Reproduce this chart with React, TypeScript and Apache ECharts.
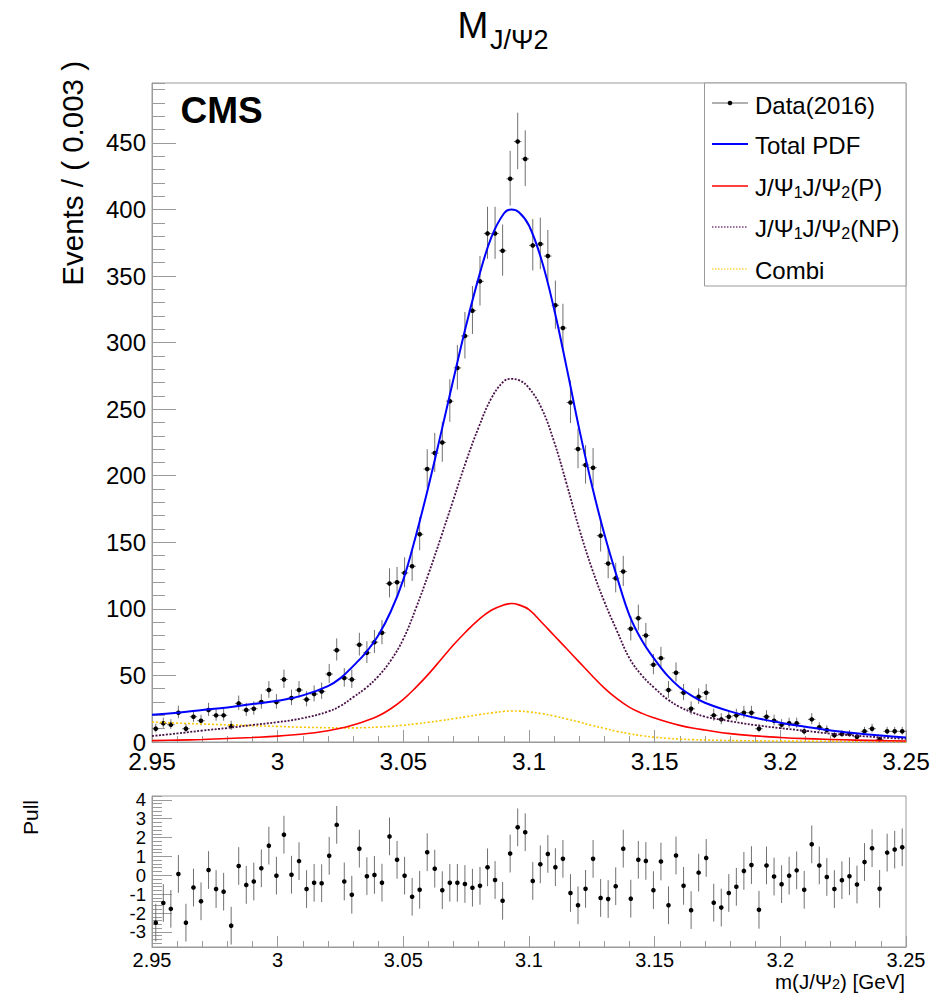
import React, { useEffect, useRef } from "react";
import * as echarts from "echarts";

const X_MIN = 2.95;
const X_MAX = 3.25;
const BIN_WIDTH = 0.003;

// Events per bin (100 bins of 0.003 GeV from 2.95 to 3.25)
const COUNTS = [
  10, 14, 13, 22, 10, 19, 16, 24, 20, 20,
  12, 29, 24, 25, 30, 39, 30, 47, 33, 39,
  32, 36, 38, 51, 69, 48, 47, 73, 67, 75,
  82, 119, 120, 127, 132, 156, 205, 217, 225, 256,
  281, 305, 324, 346, 382, 382, 369, 423, 451, 438,
  373, 374, 365, 328, 311, 255, 220, 208, 206, 155,
  134, 123, 128, 85, 93, 80, 58, 63, 39, 52,
  37, 25, 34, 37, 20, 17, 19, 20, 22, 22,
  10, 19, 16, 13, 14, 14, 8, 17, 11, 9,
  5, 6, 6, 4, 8, 10, 2, 8, 8, 8,
];

// Pull per bin
const PULLS = [
  -2.51, -1.47, -1.78, 0.07, -2.51, -0.65, -1.38, 0.28, -0.73, -0.87,
  -2.67, 0.49, -0.51, -0.33, 0.37, 1.57, -0.02, 2.15, 0.03, 0.75,
  -0.73, -0.4, -0.42, 1.03, 2.67, -0.33, -1.03, 1.41, -0.05, 0.02,
  -0.39, 2.06, 0.82, -0.02, -1.14, -0.77, 1.22, 0.35, -0.79, -0.4,
  -0.4, -0.46, -0.66, -0.56, 0.42, -0.25, -1.35, 1.15, 2.54, 2.28,
  -0.3, 0.58, 1.13, 0.43, 0.87, -0.94, -1.59, -0.72, 0.87, -1.2,
  -1.26, -0.58, 1.41, -1.24, 0.82, 0.76, -0.79, 0.73, -1.59, 1.05,
  -0.56, -1.85, 0.14, 0.92, -1.45, -1.71, -0.94, -0.61, 0.23, 0.54,
  -1.83, 0.52, -0.07, -0.47, -0.02, 0.26, -0.77, 1.64, 0.52, -0.09,
  -0.73, -0.26, -0.05, -0.49, 0.7, 1.43, -0.72, 1.2, 1.36, 1.48,
];

// Fit curves read at these masses
const CURVE_X = [
  2.95, 2.96, 2.97, 2.98, 2.99, 3.0, 3.01, 3.02, 3.025, 3.03,
  3.035, 3.04, 3.045, 3.05, 3.055, 3.06, 3.065, 3.07, 3.075, 3.08,
  3.085, 3.09, 3.093, 3.096, 3.1, 3.105, 3.11, 3.115, 3.12, 3.125,
  3.13, 3.135, 3.14, 3.145, 3.15, 3.155, 3.16, 3.165, 3.17, 3.18,
  3.19, 3.2, 3.21, 3.22, 3.23, 3.24, 3.25,
];
const TOTAL_PDF = [
  20.5, 22, 24, 26, 28.5, 31, 35, 42, 48, 57,
  67, 80, 98, 122, 155, 192, 232, 273, 313, 349,
  379, 397, 400, 398, 388, 362, 325, 281, 235, 193,
  156, 124, 95, 76, 62, 50, 41, 34.5, 29.5, 23,
  18.2, 14.5, 11.5, 8.7, 6.6, 4.8, 3.3,
];
const SIG_P = [
  1, 1.4, 1.9, 2.6, 3.4, 4.4, 6, 8.5, 10.3, 12.8,
  15.8, 19.5, 25, 32, 41, 51, 62, 73, 83, 92,
  99, 103, 104, 103, 99.5, 90, 80, 70, 60, 50,
  40.5, 32.5, 26, 21.5, 18, 15, 12.5, 10.5, 9, 6.3,
  4.6, 3.4, 2.5, 1.9, 1.4, 1, 0.7,
];
const SIG_NP = [
  4.5, 6.4, 8.6, 10.5, 12.8, 14.9, 17.9, 22.8, 27.1, 33.6,
  40.4, 49.3, 61.2, 77.4, 100.4, 126.2, 153.9, 182.5, 211, 236.5,
  258.1, 271, 272.7, 271.8, 265.9, 250.7, 225.5, 193.7, 160, 130.5,
  105.3, 83.5, 62.8, 49.8, 40.4, 32.2, 26.3, 22.2, 19, 15.6,
  12.7, 10.4, 8.4, 6.3, 4.8, 3.45, 2.3,
];
const COMBI = [
  15, 14.2, 13.5, 12.9, 12.3, 11.7, 11.1, 10.7, 10.6, 10.6,
  10.8, 11.2, 11.8, 12.6, 13.6, 14.8, 16.1, 17.5, 19, 20.5,
  21.9, 23, 23.3, 23.2, 22.6, 21.3, 19.5, 17.3, 15, 12.5,
  10.2, 8, 6.2, 4.7, 3.6, 2.8, 2.2, 1.8, 1.5, 1.1,
  0.9, 0.7, 0.6, 0.5, 0.4, 0.35, 0.3,
];

const Y_LABELS = [0, 50, 100, 150, 200, 250, 300, 350, 400, 450];
const PULL_LABELS = [-3, -2, -1, 0, 1, 2, 3, 4];

const FONT = "Liberation Sans, Arial, Helvetica, sans-serif";
const AXIS_GRAY = "#9a9a9a";
const C_TOTAL = "#0000ff";
const C_P = "#ff0000";
const C_NP = "#4a1248";
const C_COMBI = "#f7c600";

const fmtX = (v: number) => String(Math.round(v * 100) / 100);

export default function App() {
  const ref = useRef<HTMLDivElement>(null);

  useEffect(() => {
    if (!ref.current) return;
    const chart = echarts.init(ref.current, undefined, { renderer: "svg" });

    const dataPts = COUNTS.map((n, i) => {
      const s = Math.sqrt(n + 0.25);
      return [X_MIN + BIN_WIDTH * (i + 0.5), n, n + 0.5 - s, n + 0.5 + s];
    });
    const pullPts = PULLS.map((p, i) => [X_MIN + BIN_WIDTH * (i + 0.5), p, p - 1, p + 1]);
    const curve = (ys: number[]) => CURVE_X.map((x, i) => [x, ys[i]]);

    const errRender = (withX: boolean) => (params: any, api: any) => {
      const x = api.value(0);
      const y = api.value(1);
      const p = api.coord([x, y]);
      const lo = api.coord([x, api.value(2)]);
      const hi = api.coord([x, api.value(3)]);
      const children: any[] = [
        {
          type: "line",
          shape: { x1: p[0], y1: lo[1], x2: p[0], y2: hi[1] },
          style: { stroke: "#707070", lineWidth: 1 },
        },
      ];
      if (withX) {
        const l = api.coord([x - BIN_WIDTH / 2, y]);
        const r = api.coord([x + BIN_WIDTH / 2, y]);
        children.push({
          type: "line",
          shape: { x1: l[0], y1: p[1], x2: r[0], y2: p[1] },
          style: { stroke: "#707070", lineWidth: 1 },
        });
      }
      children.push({
        type: "circle",
        shape: { cx: p[0], cy: p[1], r: 2.3 },
        style: { fill: "#000" },
      });
      return { type: "group", children };
    };

    const xAxisBase = (gridIndex: number, fontSize: number, major: number, minor: number, margin: number, lineHeight: number) => ({
      type: "value",
      gridIndex,
      min: X_MIN,
      max: X_MAX,
      interval: 0.05,
      axisLine: { show: true, onZero: false, lineStyle: { color: AXIS_GRAY, width: 1 } },
      axisTick: { show: true, inside: true, length: major, lineStyle: { color: AXIS_GRAY } },
      minorTick: { show: true, splitNumber: 5, length: minor, lineStyle: { color: AXIS_GRAY } },
      axisLabel: {
        fontSize,
        lineHeight,
        fontFamily: FONT,
        color: "#000",
        margin,
        formatter: fmtX,
        showMinLabel: true,
        showMaxLabel: true,
        hideOverlap: false,
      },
      splitLine: { show: false },
      minorSplitLine: { show: false },
    });

    const legendY = [103, 144, 186, 227, 269];
    const legX1 = 712;
    const legX2 = 748;
    const legTextX = 755;
    const legRich = {
      n: { fontSize: 24, fontFamily: FONT, lineHeight: 26, fill: "#000" },
      s: { fontSize: 16, fontFamily: FONT, lineHeight: 11, verticalAlign: "bottom", fill: "#000" },
    };

    const option: any = {
      animation: false,
      backgroundColor: "#fff",
      grid: [
        { left: 152, top: 83, width: 754, height: 659, show: true, borderColor: AXIS_GRAY, borderWidth: 1, outerBoundsMode: "none" },
        { left: 152, top: 796, width: 754, height: 151, show: true, borderColor: AXIS_GRAY, borderWidth: 1, outerBoundsMode: "none" },
      ],
      xAxis: [xAxisBase(0, 24.5, 12, 6, 9, 20), xAxisBase(1, 20, 11, 6, 4, 17)],
      yAxis: [
        {
          type: "value",
          gridIndex: 0,
          position: "left",
          min: 0,
          max: 495,
          axisLine: { show: true, onZero: false, lineStyle: { color: AXIS_GRAY } },
          axisTick: { show: true, inside: true, length: 24, customValues: Y_LABELS, lineStyle: { color: AXIS_GRAY } },
          axisLabel: {
            customValues: Y_LABELS,
            fontSize: 24,
            lineHeight: 16,
            fontFamily: FONT,
            color: "#000",
            margin: 6,
            showMinLabel: true,
            showMaxLabel: true,
            hideOverlap: false,
          },
          minorTick: { show: false },
          splitLine: { show: false },
        },
        {
          type: "value",
          gridIndex: 0,
          position: "left",
          offset: 0,
          min: 0,
          max: 495,
          interval: 10,
          axisLine: { show: false },
          axisTick: { show: true, inside: true, length: 13, lineStyle: { color: AXIS_GRAY } },
          axisLabel: { show: false },
          splitLine: { show: false },
        },
        {
          type: "value",
          gridIndex: 1,
          position: "left",
          min: -3.8,
          max: 4.2,
          axisLine: { show: true, onZero: false, lineStyle: { color: AXIS_GRAY } },
          axisTick: { show: true, inside: true, length: 20, customValues: PULL_LABELS, lineStyle: { color: AXIS_GRAY } },
          axisLabel: {
            customValues: PULL_LABELS,
            fontSize: 18.5,
            lineHeight: 14,
            fontFamily: FONT,
            color: "#000",
            margin: 6,
            showMinLabel: true,
            showMaxLabel: true,
            hideOverlap: false,
          },
          minorTick: { show: false },
          splitLine: { show: false },
        },
        {
          type: "value",
          gridIndex: 1,
          position: "left",
          offset: 0,
          min: -3.8,
          max: 4.2,
          interval: 0.2,
          axisLine: { show: false },
          axisTick: { show: true, inside: true, length: 10, lineStyle: { color: AXIS_GRAY } },
          axisLabel: { show: false },
          splitLine: { show: false },
        },
      ],
      series: [
        {
          name: "Data(2016)",
          type: "custom",
          xAxisIndex: 0,
          yAxisIndex: 0,
          renderItem: errRender(true),
          encode: { x: 0, y: 1 },
          data: dataPts,
          z: 2,
        },
        {
          name: "Combi",
          type: "line",
          xAxisIndex: 0,
          yAxisIndex: 0,
          data: curve(COMBI),
          showSymbol: false,
          smooth: 0.4,
          lineStyle: { color: C_COMBI, width: 1.6, type: [2, 2] },
          z: 3,
        },
        {
          name: "J/Ψ1J/Ψ2(P)",
          type: "line",
          xAxisIndex: 0,
          yAxisIndex: 0,
          data: curve(SIG_P),
          showSymbol: false,
          smooth: 0.4,
          lineStyle: { color: C_P, width: 1.6 },
          z: 3,
        },
        {
          name: "J/Ψ1J/Ψ2(NP)",
          type: "line",
          xAxisIndex: 0,
          yAxisIndex: 0,
          data: curve(SIG_NP),
          showSymbol: false,
          smooth: 0.4,
          lineStyle: { color: C_NP, width: 1.8, type: [2, 1.5] },
          z: 3,
        },
        {
          name: "Total PDF",
          type: "line",
          xAxisIndex: 0,
          yAxisIndex: 0,
          data: curve(TOTAL_PDF),
          showSymbol: false,
          smooth: 0.4,
          lineStyle: { color: C_TOTAL, width: 2 },
          z: 4,
        },
        {
          name: "Pull",
          type: "custom",
          xAxisIndex: 1,
          yAxisIndex: 2,
          renderItem: errRender(false),
          encode: { x: 0, y: 1 },
          data: pullPts,
          z: 2,
        },
      ],
      graphic: [
        { type: "text", x: 457.5, y: 25, style: { text: "M", font: `37px ${FONT}`, fill: "#000", verticalAlign: "middle", align: "left" } },
        { type: "text", x: 490, y: 40, style: { text: "J/Ψ2", font: `27px ${FONT}`, fill: "#000", verticalAlign: "middle", align: "left" } },
        { type: "text", x: 180.5, y: 110, style: { text: "CMS", font: `bold 37px ${FONT}`, fill: "#000", verticalAlign: "middle", align: "left" } },
        {
          type: "text",
          x: 72,
          y: 61,
          rotation: Math.PI / 2,
          style: { text: "Events / ( 0.003 )", font: `29.5px ${FONT}`, fill: "#000", align: "right", verticalAlign: "middle" },
        },
        {
          type: "text",
          x: 30,
          y: 800,
          rotation: Math.PI / 2,
          style: { text: "Pull", font: `21px ${FONT}`, fill: "#000", align: "right", verticalAlign: "middle" },
        },
        {
          type: "text",
          x: 905,
          y: 981,
          style: {
            text: "{n|m(J/Ψ}{s|2}{n|) [GeV]}",
            align: "right",
            verticalAlign: "middle",
            rich: {
              n: { fontSize: 20.5, fontFamily: FONT, lineHeight: 20, fill: "#000" },
              s: { fontSize: 14.5, fontFamily: FONT, lineHeight: 6, verticalAlign: "bottom", fill: "#000" },
            },
          },
        },
        // Legend
        {
          type: "rect",
          shape: { x: 704.5, y: 83, width: 201.5, height: 203 },
          style: { fill: "#fff", stroke: AXIS_GRAY, lineWidth: 1 },
          z: 10,
        },
        { type: "line", shape: { x1: legX1, y1: legendY[0], x2: legX2, y2: legendY[0] }, style: { stroke: "#606060", lineWidth: 1 }, z: 11 },
        { type: "circle", shape: { cx: (legX1 + legX2) / 2, cy: legendY[0], r: 2.3 }, style: { fill: "#000" }, z: 11 },
        { type: "line", shape: { x1: legX1, y1: legendY[1], x2: legX2, y2: legendY[1] }, style: { stroke: C_TOTAL, lineWidth: 2 }, z: 11 },
        { type: "line", shape: { x1: legX1, y1: legendY[2], x2: legX2, y2: legendY[2] }, style: { stroke: C_P, lineWidth: 1.6 }, z: 11 },
        { type: "line", shape: { x1: legX1, y1: legendY[3], x2: legX2, y2: legendY[3] }, style: { stroke: "#7a3f7a", lineWidth: 1.5, lineDash: [1.5, 1.5] }, z: 11 },
        { type: "line", shape: { x1: legX1, y1: legendY[4], x2: legX2, y2: legendY[4] }, style: { stroke: "#ffd84a", lineWidth: 1.5, lineDash: [1.5, 1.5] }, z: 11 },
        { type: "text", x: legTextX, y: legendY[0] + 2, style: { text: "Data(2016)", font: `24px ${FONT}`, fill: "#000", verticalAlign: "middle" }, z: 11 },
        { type: "text", x: legTextX, y: legendY[1] + 1, style: { text: "Total PDF", font: `24px ${FONT}`, fill: "#000", verticalAlign: "middle" }, z: 11 },
        { type: "text", x: legTextX, y: legendY[2] + 1, style: { text: "{n|J/Ψ}{s|1}{n|J/Ψ}{s|2}{n|(P)}", rich: legRich, verticalAlign: "middle" }, z: 11 },
        { type: "text", x: legTextX, y: legendY[3] + 1, style: { text: "{n|J/Ψ}{s|1}{n|J/Ψ}{s|2}{n|(NP)}", rich: legRich, verticalAlign: "middle" }, z: 11 },
        { type: "text", x: legTextX, y: legendY[4] + 1, style: { text: "Combi", font: `24px ${FONT}`, fill: "#000", verticalAlign: "middle" }, z: 11 },
      ],
    };

    chart.setOption(option);
    return () => chart.dispose();
  }, []);

  return (
    <div
      ref={ref}
      style={{ position: "fixed", left: 0, top: 0, width: 945, height: 999, background: "#fff" }}
    />
  );
}
